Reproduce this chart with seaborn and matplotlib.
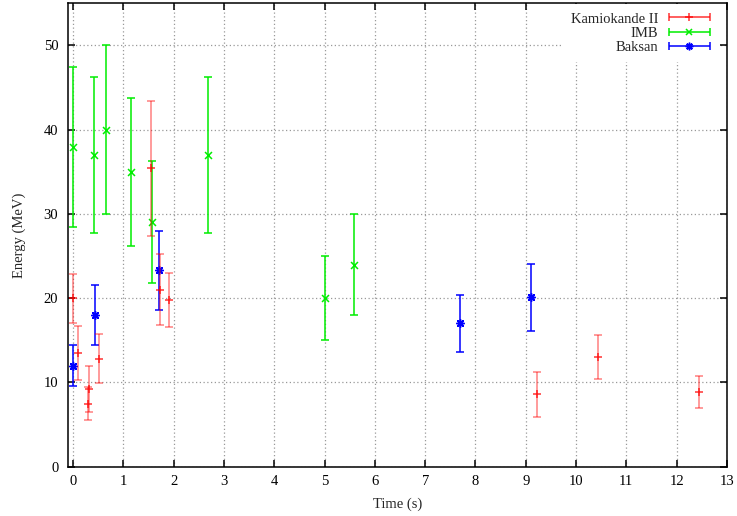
import numpy as np
import matplotlib
matplotlib.use("Agg")
import matplotlib.pyplot as plt
import seaborn as sns
from matplotlib.container import ErrorbarContainer
from matplotlib.legend_handler import HandlerErrorbar

# SN1987A neutrino events
kam_t = [0.000, 0.107, 0.303, 0.324, 0.507, 1.541, 1.728, 1.915, 9.219, 10.433, 12.439]
kam_e = [20.0, 13.5, 7.5, 9.2, 12.8, 35.4, 21.0, 19.8, 8.6, 13.0, 8.9]
kam_err = [2.9, 3.2, 2.0, 2.7, 2.9, 8.0, 4.2, 3.2, 2.7, 2.6, 1.9]

imb_t = [0.00, 0.42, 0.65, 1.15, 1.57, 2.69, 5.01, 5.59]
imb_e = [38, 37, 40, 35, 29, 37, 20, 24]
imb_err = [9.5, 9.25, 10.0, 8.75, 7.25, 9.25, 5.0, 6.0]

baksan_t = [0.000, 0.435, 1.710, 7.687, 9.099]
baksan_e = [12.0, 18.0, 23.3, 17.0, 20.1]
baksan_err = [2.4, 3.6, 4.7, 3.4, 4.0]

x_ticks = list(range(0, 14))
y_ticks = [0, 10, 20, 30, 40, 50]

sns.set_style("ticks")
plt.rcParams["font.family"] = ["Liberation Serif", "DejaVu Serif"]
fs = 10.5

fig = plt.figure(figsize=(7.37, 5.16), dpi=100)
ax = fig.add_axes([0.0923, 0.0955, 0.894, 0.898])

series = [
    ("Kamiokande II", kam_t, kam_e, kam_err, "#ff0000", "+", 6, 0.5, 4),
    ("IMB", imb_t, imb_e, imb_err, "#00ee00", "x", 5, 1.0, 3),
    ("Baksan", baksan_t, baksan_e, baksan_err, "#0000ff", (8, 2, 0), 5.5, 1.0, 3),
]

handles = []
for name, t, e, err, col, mk, ms, alpha, z in series:
    ax.errorbar(t, e, yerr=err, fmt="none", ecolor=col, elinewidth=1.1,
                capsize=2.6, capthick=1.1, alpha=alpha, zorder=z)
    sns.scatterplot(x=t, y=e, marker=mk, color=col, s=ms ** 2, linewidth=1.1,
                    alpha=min(1.0, alpha + 0.3), zorder=z + 0.5, ax=ax, legend=False)
    # proxy with horizontal bar for the gnuplot-like key
    h = ax.errorbar([np.nan], [np.nan], xerr=[1.0], marker=mk, linestyle="none",
                    color=col, ms=ms, mew=1.1, elinewidth=1.1, capsize=3,
                    capthick=1.1, alpha=min(1.0, alpha + 0.3), label=name)
    handles.append(h)

ax.set_xlim(-0.1, 13)
ax.set_ylim(0, 55)
ax.set_xticks(x_ticks)
ax.set_yticks(y_ticks)
ax.grid(True, linestyle=(0, (1, 2)), color="#999999", linewidth=0.9)
ax.set_axisbelow(True)

for s in ax.spines.values():
    s.set_visible(True)
    s.set_color("black")
    s.set_linewidth(1.1)
ax.tick_params(direction="in", length=5, width=1.1, top=True, right=True,
               labelsize=fs, colors="black")
ax.tick_params(axis="x", pad=6)
ax.tick_params(axis="y", pad=7)

ax.set_xlabel("Time (s)", fontsize=fs, labelpad=7)
ax.set_ylabel("Energy (MeV)", fontsize=fs, labelpad=13)

leg = ax.legend(handles=handles, loc="upper right", fontsize=fs,
                bbox_to_anchor=(0.988, 0.998),
                markerfirst=False, frameon=True, fancybox=False,
                borderaxespad=0.0, borderpad=0.55, labelspacing=0.08,
                handlelength=3.0, handletextpad=0.6,
                handler_map={ErrorbarContainer: HandlerErrorbar(xerr_size=1.4)})
leg.get_frame().set_facecolor("white")
leg.get_frame().set_edgecolor("none")
leg.get_frame().set_alpha(1.0)

fig.savefig("out.png", dpi=100)
